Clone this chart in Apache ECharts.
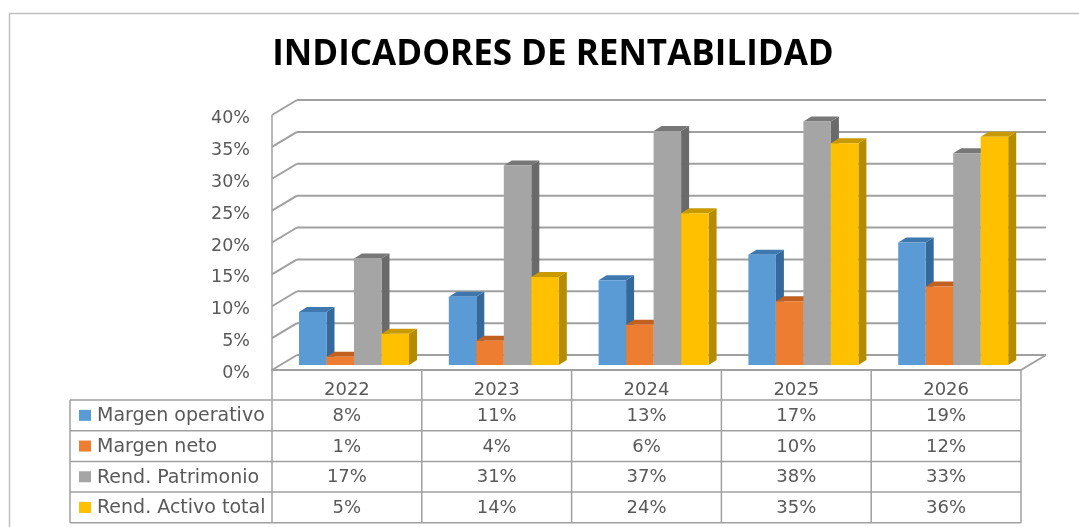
<!DOCTYPE html>
<html><head><meta charset="utf-8">
<style>html,body{margin:0;padding:0;background:#fff}#c{width:1079px;height:527px;filter:blur(0.5px)}</style>
<script src="https://cdn.jsdelivr.net/npm/echarts@6/dist/echarts.min.js"></script>
</head><body><div id="c"></div>
<script>
var categories = ['2022','2023','2024','2025','2026'];
var yTicks = [0,5,10,15,20,25,30,35,40];
var margenOperativo = [8.3,10.7,13.3,17.3,19.2];
var margenNeto = [1.3,3.8,6.3,10.0,12.3];
var rendPatrimonio = [16.7,31.3,36.7,38.2,33.2];
var rendActivo = [4.9,13.8,23.8,34.8,35.8];
var seriesNames = ['Margen operativo','Margen neto','Rend. Patrimonio','Rend. Activo total'];
var seriesValues = [margenOperativo,margenNeto,rendPatrimonio,rendActivo];
var faceColors = ['#5B9BD5','#ED7D31','#A5A5A5','#FFC000'];
var sideColors = ['#35699B','#B4581A','#6A6A6A','#B58B00'];
var topColors = ['#3F78AE','#C2601F','#777777','#C99A00'];

var GL=272, GT=115, GW=749, GH=255;
var BACK_X=25, BACK_Y=-15;
var ROW_TOP=400, ROW_H=30.7;
var TXT='#595959', FONT='"DejaVu Sans"';
var LINE='#A0A0A0';

function barItem(si){
  return function(params, api){
    var c = api.value(0), v = api.value(1);
    var base = api.coord([c,0]);
    var top = api.coord([c,v]);
    var band = api.size([1,0])[0];
    var w = 27.5;
    var x0 = base[0]-band/2 + 27 + si*w;
    var x1 = x0+w;
    var by = base[1]-5, ty = top[1]-5;
    var dx=8, dy=-5;
    return {type:'group',children:[
      {type:'polygon',shape:{points:[[x1,by],[x1+dx,by+dy],[x1+dx,ty+dy],[x1,ty]]},style:{fill:sideColors[si]}},
      {type:'polygon',shape:{points:[[x0,ty],[x0+dx,ty+dy],[x1+dx,ty+dy],[x1,ty]]},style:{fill:topColors[si]}},
      {type:'rect',shape:{x:x0,y:ty,width:w,height:by-ty},style:{fill:faceColors[si]}}
    ]};
  };
}

var series = [{
  type:'custom', silent:true, z:1,
  coordinateSystem:'cartesian2d',
  data: yTicks.map(function(t){return [0,t];}),
  renderItem:function(p,api){
    var v=api.value(1);
    var a=api.coord([0,v]);
    var band=api.size([1,0])[0];
    var lx=a[0]-band/2, rx=lx+GW;
    var kids=[
      {type:'line',shape:{x1:lx,y1:a[1],x2:lx+BACK_X,y2:a[1]+BACK_Y},style:{stroke:LINE,lineWidth:2}},
      {type:'line',shape:{x1:lx+BACK_X,y1:a[1]+BACK_Y,x2:rx+BACK_X,y2:a[1]+BACK_Y},style:{stroke:LINE,lineWidth:2}}
    ];
    if(v===0) kids.push({type:'line',shape:{x1:rx,y1:a[1],x2:rx+BACK_X,y2:a[1]+BACK_Y},style:{stroke:LINE,lineWidth:2}});
    return {type:'group',children:kids};
  }
}];
seriesValues.forEach(function(vals,si){
  series.push({
    type:'custom', name:seriesNames[si], silent:true, z:2+si,
    coordinateSystem:'cartesian2d',
    data: vals.map(function(v,i){return [i,v];}),
    renderItem: barItem(si)
  });
});
// data table
series.push({
  type:'custom', silent:true, z:10,
  coordinateSystem:'cartesian2d',
  data: seriesNames.map(function(n,i){return [0,i];}),
  renderItem:function(p,api){
    var si=api.value(1);
    var kids=[];
    var yc=ROW_TOP+ROW_H*si+ROW_H/2;
    kids.push({type:'rect',shape:{x:79,y:yc-5.5,width:12,height:11},style:{fill:faceColors[si]}});
    kids.push({type:'text',style:{x:97,y:yc+1,text:seriesNames[si],fill:TXT,font:'19px '+FONT,textVerticalAlign:'middle',textAlign:'left'}});
    seriesValues[si].forEach(function(v,i){
      var a=api.coord([i,0]);
      kids.push({type:'text',style:{x:a[0],y:yc+1,text:Math.round(v)+'%',fill:TXT,font:'18px '+FONT,textVerticalAlign:'middle',textAlign:'center'}});
    });
    return {type:'group',children:kids};
  }
});

var chart = echarts.init(document.getElementById('c'));
var lines=[];
function ln(x1,y1,x2,y2,col){lines.push({type:'line',silent:true,z:0,shape:{x1:x1,y1:y1,x2:x2,y2:y2},style:{stroke:col||LINE,lineWidth:1.5}});}
// outer frame
ln(9,13.5,1079,13.5,'#BFBFBF'); ln(9.5,13,9.5,527,'#BFBFBF');
// table rules
for(var r=0;r<=4;r++) ln(70,ROW_TOP+ROW_H*r,GL+GW,ROW_TOP+ROW_H*r);
ln(70,ROW_TOP,70,ROW_TOP+4*ROW_H);
for(var k=0;k<=categories.length;k++){var x=GL+GW/categories.length*k; ln(x,k===0?GT:GT+GH,x,ROW_TOP+4*ROW_H);}

chart.setOption({
  animation:false,
  backgroundColor:'#fff',
  title:{text:'INDICADORES DE RENTABILIDAD',left:548,top:33,textAlign:'center',
    textStyle:{fontFamily:'"Open Sans"',fontWeight:'bold',fontSize:35,color:'#000'}},
  grid:{left:GL,top:GT,width:GW,height:GH,containLabel:false},
  xAxis:{type:'category',data:categories,
    axisLine:{show:true,lineStyle:{color:LINE,width:2}},axisTick:{show:false},
    splitLine:{show:false},
    axisLabel:{color:TXT,fontFamily:FONT,fontSize:18,margin:11}},
  yAxis:{type:'value',min:0,max:40,interval:5,
    axisLine:{show:false},axisTick:{show:false},splitLine:{show:false},
    axisLabel:{margin:22,verticalAlign:'middle',
      formatter:function(v){return '{a|'+v+'%}';},
      rich:{a:{color:TXT,fontFamily:FONT,fontSize:17.5,padding:[7,0,0,0]}}}},
  graphic:{elements:lines},
  series:series
});
</script></body></html>
